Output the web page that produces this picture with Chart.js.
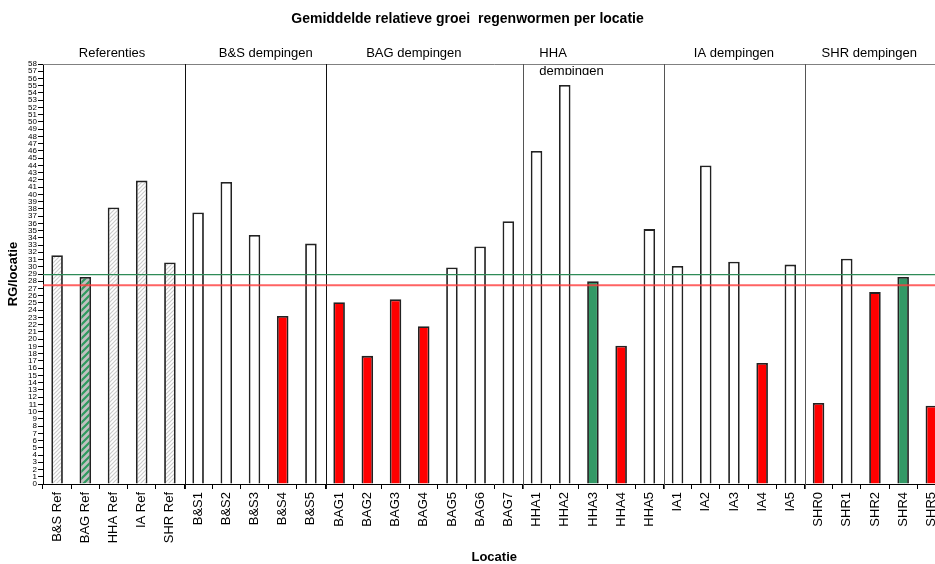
<!DOCTYPE html>
<html>
<head>
<meta charset="utf-8">
<script src="https://cdn.jsdelivr.net/npm/chart.js@4"></script>
<style>
  html,body{margin:0;padding:0;background:#fff;overflow:hidden}
  #wrap{width:950px;height:564px}
</style>
</head>
<body>
<div id="wrap"><canvas id="c" width="950" height="564"></canvas></div>
<script>
// Gemiddelde relatieve groei regenwormen per locatie
const categories = ['B&S Ref','BAG Ref','HHA Ref','IA Ref','SHR Ref',
  'B&S1','B&S2','B&S3','B&S4','B&S5',
  'BAG1','BAG2','BAG3','BAG4','BAG5','BAG6','BAG7',
  'HHA1','HHA2','HHA3','HHA4','HHA5',
  'IA1','IA2','IA3','IA4','IA5',
  'SHR0','SHR1','SHR2','SHR4','SHR5'];
const values = [31.6,28.6,38.2,41.9,30.6,
  37.5,41.7,34.4,23.2,33.2,
  25.1,17.7,25.5,21.8,29.9,32.8,36.3,
  46.0,55.1,28.0,19.1,35.2,
  30.1,44.0,30.7,16.7,30.3,
  11.2,31.1,26.5,28.6,10.8];
// soort balk: referentie, referentie (groen), open, rood, groen
const kinds = ['ref','refGreen','ref','ref','ref',
  'open','open','open','red','open',
  'red','red','red','red','open','open','open',
  'open','open','green','red','open',
  'open','open','open','red','open',
  'red','open','red','green','red'];
const groupNames = ['Referenties','B&S dempingen','BAG dempingen','HHA dempingen','IA dempingen','SHR dempingen'];
const groupStarts = [0,5,10,17,22,27];
const greenLine = 28.9;
const redLine = 27.45;
const yMax = 58;

const FONT = 'Liberation Sans, Arial, sans-serif';

function hatch(bg, fg, size, lw){
  const c = document.createElement('canvas'); c.width = size; c.height = size;
  const x = c.getContext('2d');
  x.fillStyle = bg; x.fillRect(0,0,size,size);
  x.strokeStyle = fg; x.lineWidth = lw;
  x.beginPath();
  x.moveTo(-1,size+1); x.lineTo(size+1,-1);
  x.moveTo(-1,1); x.lineTo(1,-1);
  x.moveTo(size-1,size+1); x.lineTo(size+1,size-1);
  x.stroke();
  return x.createPattern(c,'repeat');
}
const fills = {
  ref: hatch('#ffffff','#cccccc',4,1.2),
  refGreen: hatch('#c0c0c0','#2e9a5e',7,2.2),
  open: '#ffffff',
  red: '#ff0000',
  green: '#339966'
};

const overlay = {
  id:'overlay',
  afterDatasetsDraw(chart){
    const {ctx, chartArea:a, scales:{x,y}} = chart;
    const catW = x.getPixelForValue(1) - x.getPixelForValue(0);
    const edge = i => x.getPixelForValue(i) - catW/2;
    ctx.save();
    // bovenrand
    ctx.strokeStyle = '#808080'; ctx.lineWidth = 1;
    ctx.beginPath(); ctx.moveTo(a.left, a.top+0.5); ctx.lineTo(a.right, a.top+0.5); ctx.stroke();
    // scheidingslijnen tussen groepen
    groupStarts.slice(1).forEach((g,i) => {
      const px = Math.round(edge(g)) + 1.5;
      ctx.strokeStyle = i < 2 ? '#111' : '#555';
      ctx.beginPath(); ctx.moveTo(px, a.top); ctx.lineTo(px, a.bottom+5); ctx.stroke();
    });
    // normlijnen
    ctx.strokeStyle = '#2e8b57'; ctx.lineWidth = 1.2;
    let py = y.getPixelForValue(greenLine);
    ctx.beginPath(); ctx.moveTo(a.left, py); ctx.lineTo(a.right, py); ctx.stroke();
    ctx.strokeStyle = 'rgba(255,60,60,0.8)'; ctx.lineWidth = 2;
    py = y.getPixelForValue(redLine);
    ctx.beginPath(); ctx.moveTo(a.left, py); ctx.lineTo(a.right, py); ctx.stroke();
    // groepslabels
    ctx.fillStyle = '#000'; ctx.font = '13px ' + FONT; ctx.textBaseline = 'middle';
    const shift = [-0.05, 0.4, -0.35, 0, 0, -0.2];
    groupNames.forEach((n,i) => {
      const s = groupStarts[i], e = groupStarts[i+1] ?? categories.length;
      if (n.startsWith('HHA')) {
        ctx.textAlign = 'left';
        const lx = edge(s) + catW*0.6;
        const [l1, l2] = n.split(' ');
        ctx.fillText(l1, lx, 53);
        ctx.save(); ctx.beginPath(); ctx.rect(lx-2, a.top+1, 90, 10); ctx.clip();
        ctx.fillText(l2, lx, 71); ctx.restore();
      } else {
        ctx.textAlign = 'center';
        ctx.fillText(n, edge(s) + (e-s)*catW/2 + shift[i]*catW, 53);
      }
    });
    // titel
    ctx.font = 'bold 14px ' + FONT; ctx.textAlign = 'center';
    ctx.fillText('Gemiddelde relatieve groei  regenwormen per locatie', 467.5, 19);
    ctx.restore();
  }
};

new Chart(document.getElementById('c'), {
  type:'bar',
  data:{labels:categories, datasets:[{
    data:values,
    backgroundColor:kinds.map(k => fills[k]),
    borderColor:'#222',
    borderWidth:1.8,
    barPercentage:0.41,
    categoryPercentage:1
  }]},
  options:{
    responsive:false, animation:false,
    layout:{padding:{top:64,right:3,left:0,bottom:0}},
    plugins:{legend:{display:false},tooltip:{enabled:false},title:{display:false}},
    scales:{
      x:{
        afterFit:s => { s.height = 80 },
        grid:{offset:true, drawOnChartArea:false, tickLength:5, color:'#000'},
        border:{color:'#000', width:1},
        ticks:{color:'#000', font:{family:FONT, size:13}, minRotation:90, maxRotation:90, autoSkip:false, padding:3},
        title:{display:true, text:'Locatie', color:'#000', font:{family:FONT, size:13, weight:'bold', lineHeight:1}, padding:{top:0,bottom:0}}
      },
      y:{
        min:0, max:yMax,
        afterFit:s => { s.width = 43 },
        grid:{drawOnChartArea:false, tickLength:5, color:'#000'},
        border:{color:'#000', width:1},
        ticks:{stepSize:1, autoSkip:false, color:'#000', font:{family:FONT, size:8}, padding:1},
        title:{display:true, text:'RG/locatie', color:'#000', font:{family:FONT, size:13, weight:'bold'}, padding:{top:6,bottom:1}}
      }
    }
  },
  plugins:[overlay]
});
</script>
</body>
</html>
